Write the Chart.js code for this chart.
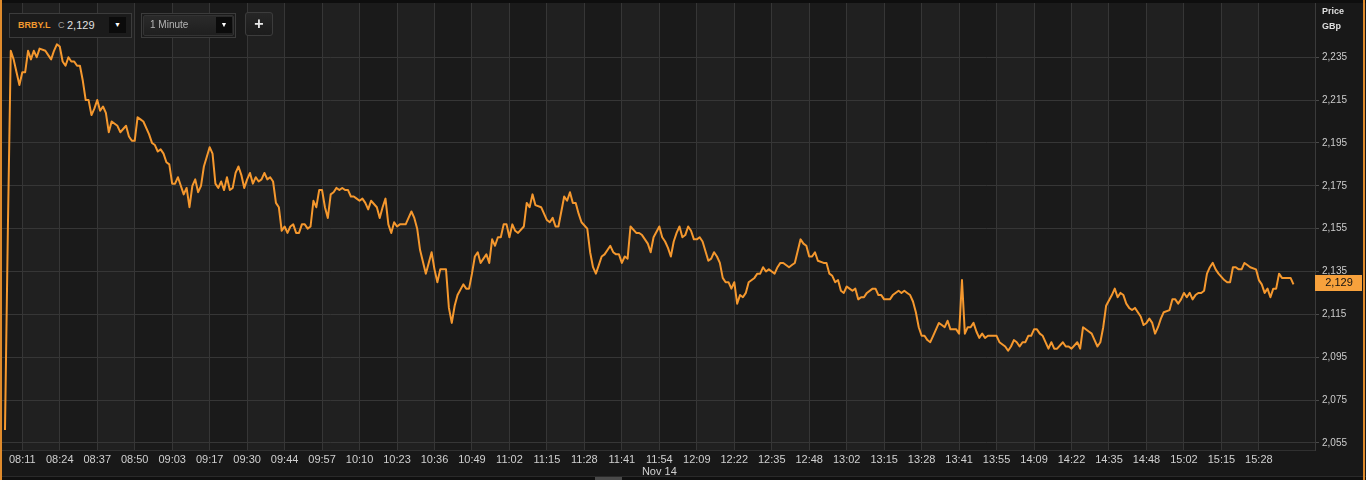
<!DOCTYPE html>
<html><head><meta charset="utf-8">
<script src="https://cdn.jsdelivr.net/npm/chart.js@4.4.0/dist/chart.umd.min.js"></script>
<style>
html,body{margin:0;padding:0;background:#181818;}
#wrap{position:relative;width:1366px;height:480px;overflow:hidden;}
canvas{display:block;}
.ov{position:absolute;box-sizing:border-box;font-family:"Liberation Sans",Arial,sans-serif;white-space:nowrap;}
.t{position:absolute;line-height:12px;}
.btn{position:absolute;background:#0b0b0b;color:#fff;font-size:7px;line-height:16px;text-align:center;}
</style></head><body>
<div id="wrap">
<canvas id="c" width="1366" height="480"></canvas>
<div class="ov" style="left:9px;top:13px;width:123px;height:25px;border:1px solid #3c3c3c;background:#1b1b1b;">
  <span class="t" style="left:8px;top:5px;color:#f39a2e;font-weight:bold;font-size:9px;">BRBY.L</span>
  <span class="t" style="left:48px;top:5px;color:#9a9a9a;font-size:9px;">C</span>
  <span class="t" style="left:57px;top:5px;color:#e0e0e0;font-size:11px;">2,129</span>
  <div class="btn" style="left:99px;top:3px;width:17px;height:16px;">&#9660;</div>
</div>
<div class="ov" style="left:141px;top:13px;width:95px;height:25px;border:1px solid #3c3c3c;background:#1b1b1b;">
  <div style="position:absolute;left:1px;top:1px;right:1px;bottom:1px;border:1px solid #333;border-radius:2px;background:linear-gradient(#2a2a2a,#1f1f1f);"></div>
  <span class="t" style="left:8px;top:5px;color:#b5b5b5;font-size:10px;">1 Minute</span>
  <div class="btn" style="left:74px;top:3px;width:16px;height:16px;">&#9660;</div>
</div>
<div class="ov" style="left:245px;top:12px;width:28px;height:24px;border:1px solid #3c3c3c;border-radius:3px;background:linear-gradient(#262626,#1c1c1c);color:#e8e8e8;font-weight:bold;font-size:16px;line-height:21px;text-align:center;">+</div>
<div class="ov" style="left:1322px;top:5px;color:#dedede;font-weight:bold;font-size:9px;line-height:12px;">Price</div>
<div class="ov" style="left:1322px;top:20px;color:#dedede;font-weight:bold;font-size:9px;line-height:12px;">GBp</div>
</div>
<script>
// ---- data ----
const timeLabels = ['08:11','08:24','08:37','08:50','09:03','09:17','09:30','09:44','09:57','10:10','10:23','10:36','10:49','11:02','11:15','11:28','11:41','11:54','12:09','12:22','12:35','12:48','13:02','13:15','13:28','13:41','13:55','14:09','14:22','14:35','14:48','15:02','15:15','15:28'];
const dateLabel = 'Nov 14';
const dateLabelAt = '11:54';
const firstTickMinute = 6;
const tickEveryMinutes = 13;
const priceTicks = [2055,2075,2095,2115,2135,2155,2175,2195,2215,2235];

const minutes = [
0,1,2,3,4,5,6,7,8,9,10,11,12,14,15,16,17,18,19,20,21,22,23,24,25,26,27,28,29,30,
31,32,33,34,35,36,37,39,40,42,43,44,45,46,47,48,50,51,52,53,54,55,56,57,58,59,60,62,63,64,
65,66,67,68,69,71,72,73,74,75,76,77,78,79,80,81,82,83,84,85,86,87,88,89,90,91,92,93,94,95,
96,97,98,99,100,101,102,103,104,105,106,107,108,109,110,111,112,113,114,115,116,117,118,119,120,121,122,123,124,125,
126,127,129,130,131,132,133,134,135,136,137,139,140,141,142,143,144,146,147,148,149,150,151,153,154,155,156,157,159,160,
161,162,163,164,165,166,167,168,169,170,171,172,173,174,175,176,177,178,180,181,182,183,184,186,187,188,189,190,191,192,
194,195,196,197,198,199,200,202,203,204,205,206,207,208,210,211,212,213,214,215,216,217,219,220,221,223,224,225,227,228,
229,230,231,232,233,234,235,236,237,238,239,240,241,242,244,245,246,247,248,249,250,251,252,253,254,255,256,257,258,260,
261,262,263,264,265,266,267,268,269,270,272,273,274,276,277,278,279,280,281,282,284,285,286,287,288,289,290,291,292,293,
294,295,296,297,298,299,301,302,303,304,305,307,308,310,311,312,313,314,315,316,317,318,319,320,321,322,323,324,325,326,
327,328,329,330,331,332,333,334,335,336,337,338,339,340,341,342,344,345,347,348,349,350,351,352,353,354,355,356,357,358,
359,360,362,363,364,365,367,368,369,370,372,373,374,376,377,378,379,380,381,382,384,385,386,387,388,389,390,391,392,394,
395,396,397,398,399,400,401,402,404,405,406,407,408,409,410,411,412,413,414,415,416,417,418,419,420,421,423,424,425,426,
427,428,429,430,431,432,434,435,436,437,438,439,440,441,442,443,445,446,447
];
const prices = [
2061,2155,2238,2234,2228,2222,2228,2228,2238,2234,2238,2235,2239,2238,2236,2234,2238,2241,2240,2233,2231,2235,2233,2233,2231,2231,2224,2215,2215,2208,
2211,2215,2210,2212,2209,2200,2205,2203,2200,2203,2198,2196,2196,2207,2206,2205,2199,2195,2194,2191,2192,2190,2186,2185,2176,2176,2179,2171,2174,2165,
2175,2178,2172,2175,2184,2193,2190,2176,2174,2177,2173,2179,2173,2174,2181,2184,2180,2174,2178,2181,2176,2179,2177,2178,2181,2178,2179,2177,2167,2165,
2154,2156,2153,2156,2157,2153,2153,2157,2157,2155,2156,2168,2165,2173,2173,2165,2160,2171,2172,2174,2173,2174,2173,2173,2170,2170,2169,2168,2169,2167,
2164,2168,2165,2160,2165,2169,2157,2153,2158,2156,2157,2157,2160,2163,2160,2155,2145,2134,2139,2144,2136,2130,2136,2136,2118,2111,2119,2124,2129,2127,
2127,2134,2142,2144,2139,2141,2143,2139,2150,2147,2151,2151,2157,2157,2151,2157,2154,2153,2156,2167,2165,2171,2166,2165,2162,2159,2158,2160,2156,2156,
2170,2168,2172,2167,2167,2162,2158,2155,2144,2137,2134,2138,2142,2143,2147,2144,2143,2143,2139,2142,2141,2156,2153,2153,2152,2148,2144,2151,2156,2151,
2149,2146,2142,2149,2153,2156,2151,2152,2156,2154,2150,2150,2151,2149,2140,2141,2144,2142,2139,2132,2130,2130,2127,2130,2120,2124,2123,2125,2130,2132,
2134,2134,2137,2135,2136,2135,2134,2137,2139,2139,2137,2138,2139,2150,2148,2147,2142,2142,2144,2140,2139,2139,2134,2133,2130,2131,2126,2125,2128,2127,
2126,2127,2122,2123,2123,2125,2127,2127,2124,2124,2122,2122,2124,2126,2125,2126,2125,2124,2121,2116,2109,2105,2105,2103,2102,2105,2108,2111,2110,2109,
2112,2108,2108,2108,2106,2131,2106,2109,2109,2111,2107,2104,2106,2104,2105,2105,2105,2102,2100,2098,2100,2103,2102,2100,2102,2102,2105,2105,2108,2108,
2106,2105,2099,2102,2099,2099,2102,2100,2100,2099,2102,2099,2109,2107,2106,2103,2100,2102,2109,2119,2124,2127,2123,2125,2124,2120,2118,2117,2118,2114,
2110,2111,2113,2111,2106,2109,2113,2116,2117,2122,2122,2120,2122,2125,2123,2125,2122,2124,2125,2125,2126,2134,2137,2139,2136,2134,2131,2130,2130,2137,
2137,2136,2136,2139,2138,2137,2136,2131,2129,2125,2127,2123,2127,2127,2134,2132,2132,2132,2129
];

const points = minutes.map((m, i) => ({ x: m, y: prices[i] }));
const tickMinutes = timeLabels.map((_, i) => firstTickMinute + i * tickEveryMinutes);
const lastPrice = prices[prices.length - 1];

const chromePlugin = {
  id: 'chrome',
  beforeDraw(chart) {
    const { ctx, chartArea: a, width, height } = chart;
    const xs = chart.scales.x;
    ctx.save();
    ctx.fillStyle = '#181818';
    ctx.fillRect(0, 0, width, height);
    ctx.fillStyle = '#0e0e0e';
    ctx.fillRect(0, 0, width, a.top);
    const edges = [a.left].concat(xs.ticks.map(t => xs.getPixelForValue(t.value))).concat([a.right]);
    for (let i = 0; i < edges.length - 1; i++) {
      const k = i - 1;
      ctx.fillStyle = (k % 2 === 0) ? '#202020' : '#1a1a1a';
      ctx.fillRect(edges[i], a.top, edges[i + 1] - edges[i], a.bottom - a.top);
    }
    ctx.fillStyle = '#2a2a2a';
    ctx.fillRect(0, 476, width, 1);
    ctx.fillStyle = '#101010';
    ctx.fillRect(0, 477, width, 3);
    ctx.fillStyle = '#4a4a4a';
    ctx.fillRect(595, 477, 27, 3);
    ctx.restore();
  },
  afterDraw(chart) {
    const { ctx, chartArea: a, width, height } = chart;
    const y = chart.scales.y.getPixelForValue(lastPrice);
    ctx.save();
    ctx.fillStyle = '#f7a13c';
    ctx.fillRect(a.right, Math.round(y) - 9, 47, 16);
    ctx.fillStyle = '#111';
    ctx.font = '11px "Liberation Sans", Arial, sans-serif';
    ctx.textAlign = 'center';
    ctx.textBaseline = 'middle';
    ctx.fillText(lastPrice.toLocaleString('en-US'), a.right + 24, Math.round(y) - 1);
    ctx.fillStyle = '#e08b2c';
    ctx.fillRect(0, 0, 2, height);
    ctx.fillRect(width - 3, 0, 2, height);
    ctx.restore();
  }
};

function noPad(s) { s.paddingTop = 0; s.paddingBottom = 0; s.paddingLeft = 0; s.paddingRight = 0; }

new Chart(document.getElementById('c'), {
  type: 'line',
  data: {
    datasets: [{
      data: points,
      borderColor: '#f5982e',
      borderWidth: 2,
      pointRadius: 0,
      tension: 0,
      borderJoinStyle: 'round',
      fill: false
    }]
  },
  options: {
    responsive: false,
    animation: false,
    devicePixelRatio: 1,
    layout: { padding: { left: 2, top: 3, right: 0, bottom: 0 } },
    plugins: { legend: { display: false }, tooltip: { enabled: false } },
    scales: {
      x: {
        type: 'linear',
        bounds: 'data',
        min: -1.04,
        max: 454.47,
        afterBuildTicks(s) { s.ticks = tickMinutes.map(v => ({ value: v })); },
        afterFit(s) { s.height = 30; noPad(s); },
        grid: { color: '#363636', drawTicks: false },
        border: { display: true, color: '#303030' },
        ticks: {
          autoSkip: false,
          maxRotation: 0,
          padding: 4,
          color: '#d0d0d0',
          font: { family: '"Liberation Sans Narrow", "Liberation Sans", Arial, sans-serif', size: 11, lineHeight: 1.1 },
          callback(v, i) {
            const lab = timeLabels[i];
            return lab === dateLabelAt ? [lab, dateLabel] : lab;
          }
        }
      },
      y: {
        type: 'linear',
        position: 'right',
        bounds: 'data',
        min: 2051.7,
        max: 2260.3,
        afterBuildTicks(s) { s.ticks = priceTicks.map(v => ({ value: v })); },
        afterFit(s) { s.width = 51; noPad(s); },
        grid: { color: '#363636', tickLength: 4, tickColor: '#4a4a4a' },
        border: { display: true, color: '#3a3a3a' },
        ticks: {
          padding: 3,
          color: '#cccccc',
          font: { family: '"Liberation Sans", Arial, sans-serif', size: 10 },
          callback(v) { return v.toLocaleString('en-US'); }
        }
      }
    }
  },
  plugins: [chromePlugin]
});
</script>
</body></html>
